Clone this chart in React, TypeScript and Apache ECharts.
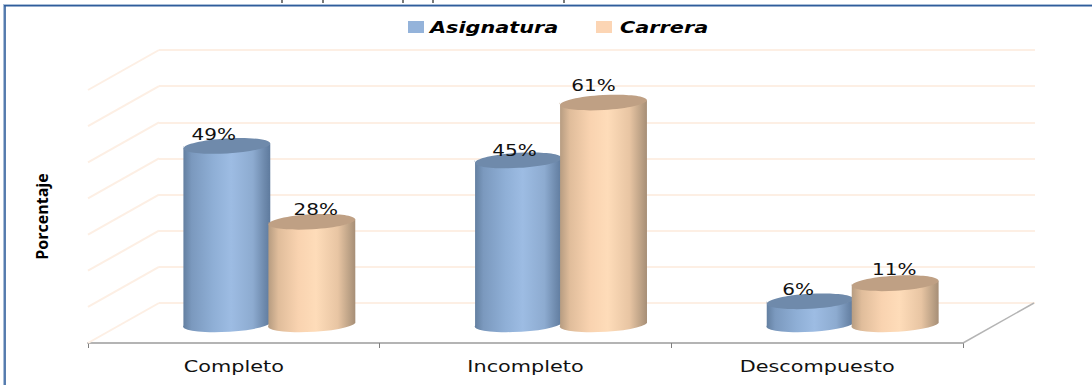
import { useEffect, useRef } from "react";
import * as echarts from "echarts";

const categories = ["Completo", "Incompleto", "Descompuesto"];
const asignatura = [49, 45, 6];
const carrera = [28, 61, 11];
const legendNames = ["Asignatura", "Carrera"];
const axisTitle = "Porcentaje";
const wallTicks = [0, 10, 20, 30, 40, 50, 60, 70];

// Depth of the pseudo 3D box, from the front floor edge to the back wall.
const DEPTH_X = 71;
const DEPTH_Y = -40;
// Cylinder geometry.
const RADIUS_X = 43.5;
const RADIUS_Y = 7.5;
const TILT_DEG = 3.3;
const TEXT_STRETCH = 1.3;

const BLUE = {
  top: "#6f8aab",
  stops: [
    { offset: 0, color: "#627e9f" },
    { offset: 0.1, color: "#7b99be" },
    { offset: 0.35, color: "#8fafd6" },
    { offset: 0.55, color: "#9dbce3" },
    { offset: 0.8, color: "#8dabd0" },
    { offset: 0.93, color: "#6e8aad" },
    { offset: 1, color: "#5e7a9d" },
  ],
  side: -42.5,
};
const TAN = {
  top: "#bfa084",
  stops: [
    { offset: 0, color: "#b59b80" },
    { offset: 0.12, color: "#e0bd9b" },
    { offset: 0.35, color: "#f9d3b0" },
    { offset: 0.55, color: "#fedcb9" },
    { offset: 0.8, color: "#e8c5a3" },
    { offset: 0.93, color: "#bda286" },
    { offset: 1, color: "#a68e76" },
  ],
  side: 42.5,
};

// Offsets of each value label from the centre of its cylinder's top.
const labelNudgeBlue = [-13, -4, -12];
const labelNudgeTan = [4, -10, -1];
const labelLiftBlue = [11.5, 10.5, 12];
const labelLiftTan = [13, 17.5, 14];

function cylinderSeries(
  name: string,
  values: number[],
  look: typeof BLUE,
  nudges: number[],
  lifts: number[],
  z: number,
) {
  return {
    name,
    type: "custom",
    coordinateSystem: "cartesian2d",
    xAxisIndex: 1,
    yAxisIndex: 1,
    z,
    clip: false,
    silent: true,
    data: values.map((v, i) => [i, v]),
    renderItem: (_p: any, api: any) => {
      const idx = api.value(0);
      const val = api.value(1);
      const base = api.coord([idx, 0]);
      const head = api.coord([idx, val]);
      const cx = base[0] + DEPTH_X / 2 + look.side;
      const by = base[1] + DEPTH_Y / 2;
      const ty = head[1] + DEPTH_Y / 2;
      const a = (TILT_DEG * Math.PI) / 180;
      const ex = RADIUS_X * Math.cos(a);
      const ey = RADIUS_X * Math.sin(a);
      const lb = `${cx - ex} ${by + ey}`;
      const rb = `${cx + ex} ${by - ey}`;
      const lt = `${cx - ex} ${ty + ey}`;
      const rt = `${cx + ex} ${ty - ey}`;
      const d = `M ${lt} L ${lb} A ${RADIUS_X} ${RADIUS_Y} ${-TILT_DEG} 0 0 ${rb} L ${rt} A ${RADIUS_X} ${RADIUS_Y} ${-TILT_DEG} 0 1 ${lt} Z`;
      return {
        type: "group",
        children: [
          {
            type: "path",
            shape: { pathData: d },
            style: { fill: new echarts.graphic.LinearGradient(0, 0, 1, 0, look.stops) },
          },
          {
            type: "ellipse",
            x: cx,
            y: ty,
            rotation: a,
            shape: { cx: 0, cy: 0, rx: RADIUS_X, ry: RADIUS_Y },
            style: { fill: look.top },
          },
          {
            type: "text",
            x: cx + nudges[idx],
            y: ty - lifts[idx],
            scaleX: 1.25,
            style: {
              text: `${val}%`,
              font: "16px 'DejaVu Sans'",
              fill: "#111",
              textAlign: "center",
              textVerticalAlign: "middle",
            },
          },
        ],
      };
    },
  };
}

export default function App() {
  const ref = useRef<HTMLDivElement>(null);
  useEffect(() => {
    if (!ref.current) return;
    document.body.style.margin = "0";
    const chart = echarts.init(ref.current, undefined, { renderer: "svg" });
    chart.setOption({
      animation: false,
      backgroundColor: "#ffffff",
      tooltip: { show: false },
      grid: [
        // back wall
        { left: 159, top: 50, width: 876, height: 253 },
        // front plane of the floor
        { left: 88, top: 90, width: 875, height: 253 },
      ],
      xAxis: [
        {
          gridIndex: 0,
          type: "category",
          data: categories,
          axisLine: { show: false },
          axisTick: { show: false },
          axisLabel: { show: false },
        },
        {
          gridIndex: 1,
          type: "category",
          data: categories,
          axisLine: { show: true, lineStyle: { color: "#b4b4b4", width: 2 } },
          axisTick: { show: true, length: 5, lineStyle: { color: "#7f7f7f", width: 1 } },
          axisLabel: { show: false },
        },
      ],
      yAxis: [
        {
          gridIndex: 0,
          type: "value",
          min: 0,
          max: 70,
          interval: 10,
          axisLine: { show: false },
          axisTick: { show: false },
          axisLabel: { show: false },
          splitLine: { show: true, lineStyle: { color: "#fdefe4", width: 2 } },
        },
        {
          gridIndex: 1,
          type: "value",
          min: 0,
          max: 70,
          interval: 10,
          axisLine: { show: false },
          axisTick: { show: false },
          axisLabel: { show: false },
          splitLine: { show: false },
          name: axisTitle,
          nameLocation: "middle",
          nameGap: 38,
          nameTextStyle: {
            fontFamily: "'Open Sans'",
            fontWeight: "bold",
            fontSize: 16,
            color: "#000",
          },
        },
      ],
      graphic: [
        // outer frame: top and left edges only
        { type: "rect", silent: true, shape: { x: 3, y: 4, width: 1089, height: 1 }, style: { fill: "#a9bed8" } },
        { type: "rect", silent: true, shape: { x: 4, y: 5, width: 1088, height: 1.5 }, style: { fill: "#2f5d9b" } },
        { type: "rect", silent: true, shape: { x: 3, y: 4, width: 1.2, height: 381 }, style: { fill: "#a9bed8" } },
        { type: "rect", silent: true, shape: { x: 4.2, y: 5, width: 1.6, height: 380 }, style: { fill: "#2f5d9b" } },
        // descenders of the caption line above the frame
        ...[282, 323, 403, 433, 564].map((x) => ({
          type: "line",
          silent: true,
          shape: { x1: x, y1: 0, x2: x, y2: 3 },
          style: { stroke: "#222", lineWidth: 1.2 },
        })),
        // legend
        { type: "rect", silent: true, shape: { x: 408, y: 21, width: 16, height: 12 }, style: { fill: "#94b3da" } },
        {
          type: "text",
          silent: true,
          x: 430,
          y: 27,
          scaleX: TEXT_STRETCH,
          style: {
            text: legendNames[0],
            font: "italic bold 16px 'DejaVu Sans'",
            fill: "#000",
            textAlign: "left",
            textVerticalAlign: "middle",
          },
        },
        { type: "rect", silent: true, shape: { x: 596, y: 21, width: 16, height: 12 }, style: { fill: "#fcd5b4" } },
        {
          type: "text",
          silent: true,
          x: 620,
          y: 27,
          scaleX: TEXT_STRETCH,
          style: {
            text: legendNames[1],
            font: "italic bold 16px 'DejaVu Sans'",
            fill: "#000",
            textAlign: "left",
            textVerticalAlign: "middle",
          },
        },
      ],
      series: [
        {
          // side wall and floor edges of the box
          type: "custom",
          coordinateSystem: "cartesian2d",
          xAxisIndex: 1,
          yAxisIndex: 1,
          z: 1,
          clip: false,
          silent: true,
          data: wallTicks.map((v) => [0, v]),
          renderItem: (_p: any, api: any) => {
            const pt = api.coord([0, api.value(1)]);
            const left = pt[0] - api.size([1, 0])[0] / 2;
            const band = api.size([1, 0])[0];
            const children: any[] = [
              {
                type: "line",
                shape: { x1: left, y1: pt[1], x2: left + DEPTH_X, y2: pt[1] + DEPTH_Y },
                style: { stroke: "#fdefe4", lineWidth: 2 },
              },
            ];
            if (api.value(1) === 0) {
              const right = left + band * categories.length;
              children.push({
                type: "line",
                shape: { x1: right, y1: pt[1], x2: right + DEPTH_X, y2: pt[1] + DEPTH_Y },
                style: { stroke: "#b4b4b4", lineWidth: 1.5 },
              });
            }
            return { type: "group", children };
          },
        },
        cylinderSeries(legendNames[0], asignatura, BLUE, labelNudgeBlue, labelLiftBlue, 3),
        cylinderSeries(legendNames[1], carrera, TAN, labelNudgeTan, labelLiftTan, 4),
        {
          // category names under the floor edge
          type: "custom",
          coordinateSystem: "cartesian2d",
          xAxisIndex: 1,
          yAxisIndex: 1,
          z: 5,
          clip: false,
          silent: true,
          data: categories.map((_c, i) => [i, 0]),
          renderItem: (_p: any, api: any) => {
            const pt = api.coord([api.value(0), 0]);
            return {
              type: "text",
              x: pt[0],
              y: pt[1] + 23,
              scaleX: TEXT_STRETCH,
              style: {
                text: categories[api.value(0)],
                font: "16px 'DejaVu Sans'",
                fill: "#111",
                textAlign: "center",
                textVerticalAlign: "middle",
              },
            };
          },
        },
      ],
    });
    return () => chart.dispose();
  }, []);
  return <div ref={ref} style={{ width: 1092, height: 385 }} />;
}
